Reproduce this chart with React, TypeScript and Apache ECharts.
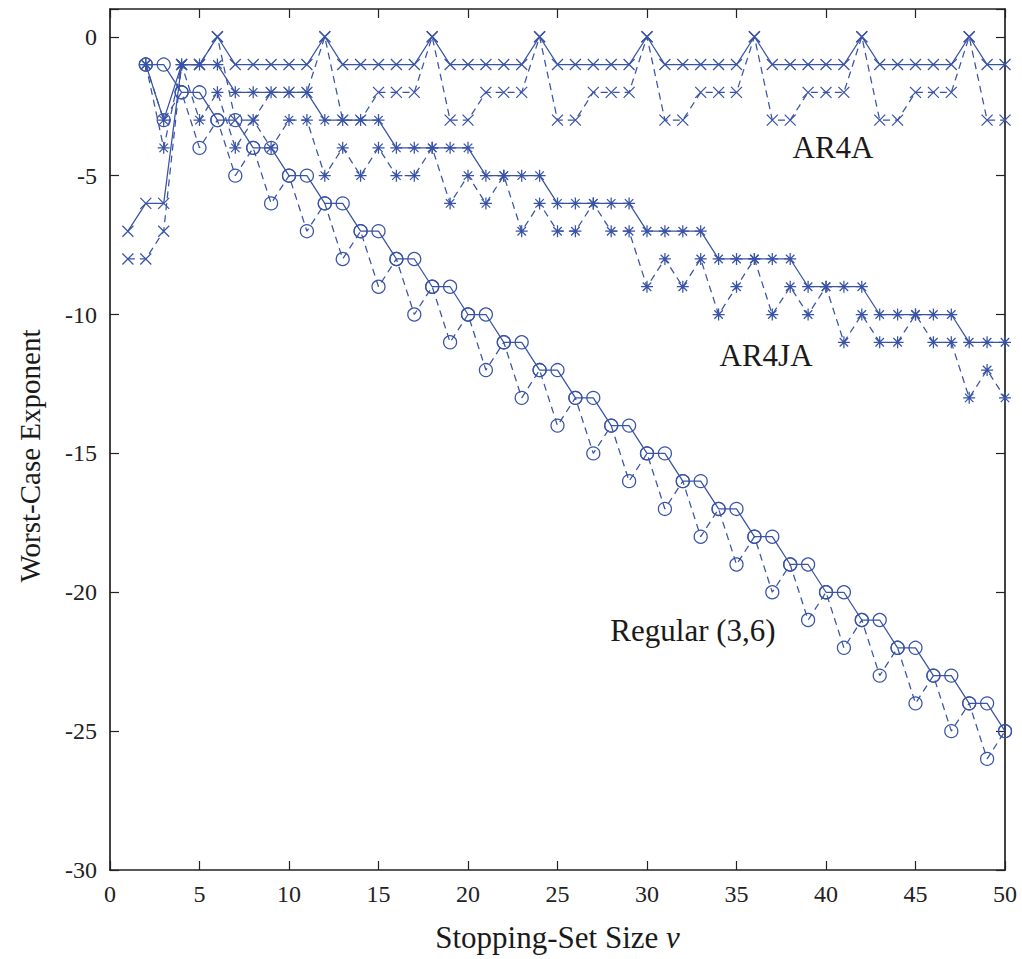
import React, { useEffect, useRef } from 'react';
import * as echarts from 'echarts';

const STOP_SIZE = [1,2,3,4,5,6,7,8,9,10,11,12,13,14,15,16,17,18,19,20,21,22,23,24,25,26,27,28,29,30,31,32,33,34,35,36,37,38,39,40,41,42,43,44,45,46,47,48,49,50];

const AR4A_SOLID = [-7,-6,-6,-1,-1,0,-1,-1,-1,-1,-1,0,-1,-1,-1,-1,-1,0,-1,-1,-1,-1,-1,0,-1,-1,-1,-1,-1,0,-1,-1,-1,-1,-1,0,-1,-1,-1,-1,-1,0,-1,-1,-1,-1,-1,0,-1,-1];
const AR4A_DASHED = [-8,-8,-7,-1,-1,0,-3,-3,-2,-2,-2,0,-3,-3,-2,-2,-2,0,-3,-3,-2,-2,-2,0,-3,-3,-2,-2,-2,0,-3,-3,-2,-2,-2,0,-3,-3,-2,-2,-2,0,-3,-3,-2,-2,-2,0,-3,-3];
const AR4JA_SOLID = [null,-1,-3,-1,-1,-1,-2,-2,-2,-2,-2,-3,-3,-3,-3,-4,-4,-4,-4,-4,-5,-5,-5,-5,-6,-6,-6,-6,-6,-7,-7,-7,-7,-8,-8,-8,-8,-8,-9,-9,-9,-9,-10,-10,-10,-10,-10,-11,-11,-11];
const AR4JA_DASHED = [null,-1,-4,-1,-3,-2,-4,-3,-4,-3,-3,-5,-4,-5,-4,-5,-5,-4,-6,-5,-6,-5,-7,-6,-7,-7,-6,-7,-7,-9,-8,-9,-8,-10,-9,-8,-10,-9,-10,-9,-11,-10,-11,-11,-10,-11,-11,-13,-12,-13];
const REGULAR_SOLID = [null,-1,-1,-2,-2,-3,-3,-4,-4,-5,-5,-6,-6,-7,-7,-8,-8,-9,-9,-10,-10,-11,-11,-12,-12,-13,-13,-14,-14,-15,-15,-16,-16,-17,-17,-18,-18,-19,-19,-20,-20,-21,-21,-22,-22,-23,-23,-24,-24,-25];
const REGULAR_DASHED = [null,-1,-3,-2,-4,-3,-5,-4,-6,-5,-7,-6,-8,-7,-9,-8,-10,-9,-11,-10,-12,-11,-13,-12,-14,-13,-15,-14,-16,-15,-17,-16,-18,-17,-19,-18,-20,-19,-21,-20,-22,-21,-23,-22,-24,-23,-25,-24,-26,-25];

const Y_TICKS = [-30, -25, -20, -15, -10, -5, 0];

const BLUE = '#3953a6';
const AXIS = '#222222';
const TEXT = '#1a1a1a';
const FAMILY = 'Liberation Serif';

const SYM_X = 'path://M0 0L10 10M10 0L0 10';
const SYM_STAR = 'path://M5 0L5 10M0 5L10 5M1.46 1.46L8.54 8.54M8.54 1.46L1.46 8.54';

function pairs(arr: (number | null)[]) {
  const out: number[][] = [];
  STOP_SIZE.forEach((x, i) => {
    const v = arr[i];
    if (v !== null && v !== undefined) out.push([x, v]);
  });
  return out;
}

function mk(name: string, arr: (number | null)[], symbol: string, size: number, dashed: boolean) {
  return {
    name,
    type: 'line',
    data: pairs(arr),
    symbol,
    symbolSize: size,
    showAllSymbol: true,
    xAxisIndex: 0,
    yAxisIndex: 0,
    lineStyle: { color: BLUE, width: 1.25, type: dashed ? [7, 5] : 'solid' },
    itemStyle: { color: 'transparent', borderColor: BLUE, borderWidth: 1.25 },
    emphasis: { disabled: true },
  };
}

export default function App() {
  const ref = useRef<HTMLDivElement>(null);
  useEffect(() => {
    if (!ref.current) return;
    const chart = echarts.init(ref.current, undefined, { renderer: 'svg' });
    const axisLine = { show: true, onZero: false, lineStyle: { color: AXIS, width: 1.7 } };
    const axisTick = { show: true, inside: true, length: 9, lineStyle: { color: AXIS, width: 1.2 } };
    chart.setOption({
      animation: false,
      backgroundColor: '#ffffff',
      textStyle: { fontFamily: FAMILY },
      grid: { left: 110, right: 17, top: 9, bottom: 89, containLabel: false },
      xAxis: [
        {
          type: 'value', min: 0, max: 50, interval: 5, position: 'bottom',
          axisLine, axisTick, splitLine: { show: false },
          axisLabel: { color: AXIS, fontFamily: FAMILY, fontSize: 24, margin: 12 },
          name: 'Stopping-Set Size {i|v}',
          nameLocation: 'middle',
          nameGap: 52,
          nameTextStyle: {
            color: TEXT, fontFamily: FAMILY, fontSize: 31,
            rich: { i: { fontStyle: 'italic', fontFamily: FAMILY, fontSize: 31, color: TEXT } },
          },
        },
        {
          type: 'value', min: 0, max: 50, interval: 5, position: 'top',
          axisLine, axisTick, splitLine: { show: false }, axisLabel: { show: false },
        },
      ],
      yAxis: [
        {
          type: 'value', min: -30, max: 1, interval: 5, position: 'left',
          axisLine, axisTick, splitLine: { show: false },
          axisLabel: {
            color: AXIS, fontFamily: FAMILY, fontSize: 24, margin: 13,
            formatter: (v: number) => (Y_TICKS.indexOf(v) >= 0 ? String(v) : ''),
          },
        },
        {
          type: 'value', min: -30, max: 1, interval: 5, position: 'right',
          axisLine, axisTick, splitLine: { show: false }, axisLabel: { show: false },
        },
      ],
      series: [
        mk('AR4A', AR4A_SOLID, SYM_X, 11, false),
        mk('AR4A dashed', AR4A_DASHED, SYM_X, 11, true),
        mk('AR4JA', AR4JA_SOLID, SYM_STAR, 12, false),
        mk('AR4JA dashed', AR4JA_DASHED, SYM_STAR, 12, true),
        mk('Regular (3,6)', REGULAR_SOLID, 'circle', 13, false),
        mk('Regular (3,6) dashed', REGULAR_DASHED, 'circle', 13, true),
      ],
      graphic: [
        { type: 'text', x: 30, y: 456, rotation: Math.PI / 2, style: { text: 'Worst-Case Exponent', fontFamily: FAMILY, fontSize: 29, fill: TEXT, textAlign: 'center', textVerticalAlign: 'middle' } },
        { type: 'text', x: 833, y: 147, style: { text: 'AR4A', fontFamily: FAMILY, fontSize: 31, fill: TEXT, textAlign: 'center', textVerticalAlign: 'middle' } },
        { type: 'text', x: 766, y: 355, style: { text: 'AR4JA', fontFamily: FAMILY, fontSize: 31, fill: TEXT, textAlign: 'center', textVerticalAlign: 'middle' } },
        { type: 'text', x: 693, y: 630, style: { text: 'Regular (3,6)', fontFamily: FAMILY, fontSize: 31, fill: TEXT, textAlign: 'center', textVerticalAlign: 'middle' } },
      ],
    });
    return () => chart.dispose();
  }, []);
  return <div ref={ref} style={{ position: 'absolute', left: 0, top: 0, width: 1022, height: 959 }} />;
}
